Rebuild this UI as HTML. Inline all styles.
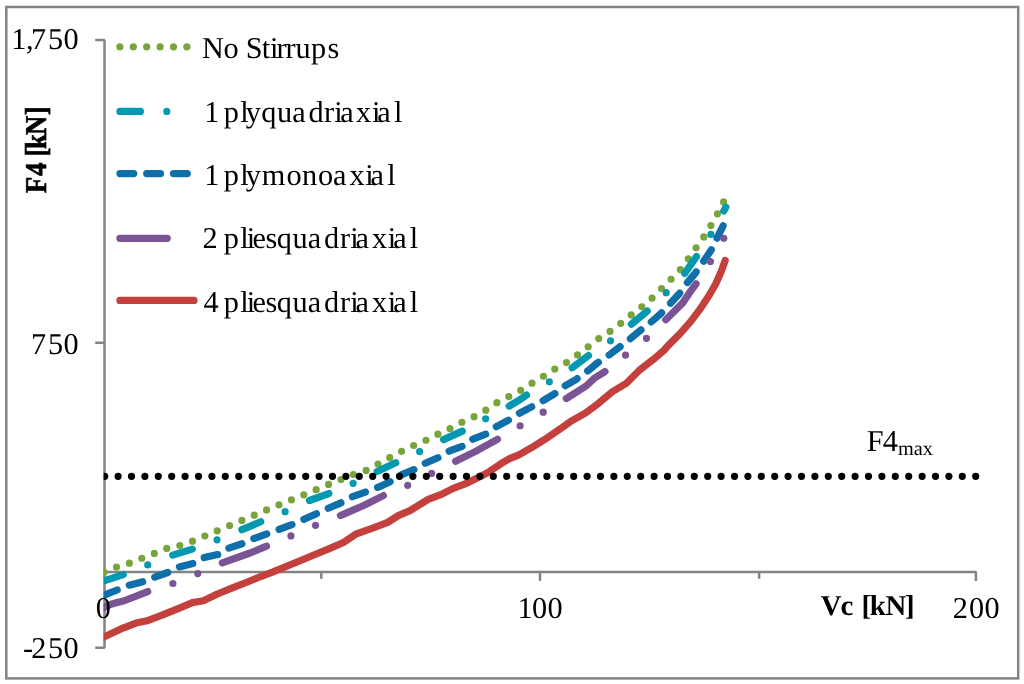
<!DOCTYPE html>
<html><head><meta charset="utf-8"><title>chart</title>
<style>
html,body{margin:0;padding:0;background:#fff;}
body{width:1024px;height:684px;overflow:hidden;position:relative;font-family:"Liberation Serif",serif;color:#000;}
svg{position:absolute;left:0;top:0;will-change:transform;}
text{font-family:"Liberation Serif",serif;fill:#000;text-rendering:geometricPrecision;}
</style></head><body>
<svg width="1024" height="684" viewBox="0 0 1024 684">
<defs><clipPath id="plot"><rect x="103.7" y="30" width="900" height="640"/></clipPath></defs>
<rect x="6.3" y="7.0" width="1011.9" height="671.4" fill="#fff" stroke="#848484" stroke-width="2.5"/>
<!-- axes -->
<g stroke="#848484" stroke-width="2.5" fill="none" stroke-linejoin="bevel">
<path d="M95.2,40 H104.5 V647.75 H95.2"/>
<path d="M95.2,342.8 H104.5"/>
<path d="M104.5,571.9 H975.9 V581"/>
<path d="M321.3,571.9 V578.8"/>
<path d="M540,571.9 V580.9"/>
<path d="M759.1,571.9 V578.8"/>
</g>
<g clip-path="url(#plot)" fill="none" stroke-linecap="round" stroke-linejoin="round" stroke-width="7.2">
<path d="M104.2,572.3 L104.7,572.1 L116.7,566.9 L129.4,563.2 L141.9,558.2 L154.5,553.3 L167.0,548.3 L179.8,545.5 L192.3,541.3 L254.4,515.1 L266.7,509.9 L279.3,504.7 L291.8,499.7 L304.0,494.7 L316.4,489.6 L328.7,484.4 L341.2,479.4 L353.6,474.4 L366.0,470.5 L401.6,451.3 L413.8,445.4 L426.3,440.2 L438.3,434.0 L450.0,428.5 L462.0,422.2 L474.0,416.7 L485.8,410.2 L496.7,402.8 L520.8,390.3 L532.0,383.2 L543.5,376.2 L554.7,369.1 L566.5,362.6 L577.4,355.0 L588.0,346.9 L598.7,338.6 L609.7,331.6 L620.7,323.3 L631.0,315.1 L641.5,307.0 L652.0,298.2 L661.3,288.8 L670.9,279.4 L680.3,269.7 L688.1,259.1 L695.9,248.1 L703.5,237.3 L710.7,225.9 L717.2,214.3 L723.4,202.4 L724.0,201.2" stroke="#78A43B" stroke-dasharray="0.00 13.40"/>
<path d="M104.7,580.7 L125.0,574.1 L148.2,564.7 L171.2,555.6 L193.9,548.6 L216.6,540.0 L250.0,526.3 L261.0,521.6 L285.5,511.5 L309.5,500.5 L329.8,493.2 L353.3,483.3 L376.8,471.6 L419.6,451.6 L443.0,439.9 L462.6,431.0 L485.6,418.8 L508.8,406.3 L520.0,399.6 L525.5,395.7 L549.0,382.0 L572.4,367.6 L588.0,355.8 L610.3,341.0 L631.3,324.2 L646.2,312.0 L665.7,293.2 L684.5,273.6 L695.5,258.0 L710.4,235.3 L723.4,211.5 L725.8,207.2" stroke="#0499B1" stroke-dasharray="20.50 26.40 0.00 26.80" stroke-dashoffset="1.0"/>
<path d="M104.7,594.8 L117.2,590.0 L128.2,585.4 L143.8,581.5 L153.2,577.6 L168.9,572.1 L177.5,567.4 L193.9,563.2 L202.5,558.0 L219.7,554.1 L227.5,548.6 L244.0,543.1 L253.9,538.5 L267.2,533.8 L279.0,529.5 L292.3,524.5 L304.0,519.3 L317.0,513.5 L328.2,508.3 L341.5,502.6 L352.5,496.6 L365.8,491.9 L378.3,487.2 L390.8,481.3 L401.0,475.0 L414.0,469.6 L425.0,463.4 L438.3,457.6 L448.8,451.3 L462.6,446.2 L472.8,439.1 L486.0,434.1 L495.8,426.9 L508.8,420.0 L519.2,413.3 L532.2,406.6 L543.5,400.4 L554.4,393.8 L565.4,385.6 L576.3,379.3 L588.0,370.7 L597.5,362.9 L609.2,355.0 L619.4,347.2 L630.5,338.6 L639.9,330.8 L650.9,322.2 L661.0,313.5 L670.4,303.4 L679.0,294.0 L687.6,282.3 L695.5,272.9 L703.3,261.9 L711.1,250.2 L716.7,238.9 L722.5,227.1 L725.5,221.0" stroke="#0F6FAA" stroke-dasharray="13.80 13.00" stroke-dashoffset="0.4"/>
<path d="M103.5,607.9 L107.0,606.0 L111.0,604.2 L117.0,602.5 L123.5,601.0 L148.5,591.3 L173.6,583.3 L198.6,573.3 L220.5,563.5 L250.0,553.0 L267.2,545.9 L291.5,535.7 L316.0,525.1 L341.5,515.1 L364.2,505.2 L384.6,495.0 L408.0,485.2 L432.1,473.1 L455.6,461.3 L475.1,451.6 L497.8,439.1 L520.5,425.5 L543.6,411.9 L567.0,398.1 L585.7,386.3 L595.1,377.7 L604.5,371.9 L625.6,355.0 L646.6,338.2 L665.7,319.8 L683.0,302.6 L689.2,293.2 L695.5,284.6 L710.3,261.7 L723.4,239.0 L724.3,237.4" stroke="#7A5494" stroke-dasharray="47.30 26.40 0.00 26.80 0.00 26.80"/>
<path d="M103.5,637.2 L104.7,636.6 L120.3,629.2 L136.0,623.1 L147.0,620.8 L162.6,614.9 L178.2,608.6 L192.3,602.6 L203.3,600.7 L217.4,594.0 L233.0,587.7 L248.7,581.5 L260.0,576.8 L273.1,571.8 L297.0,562.0 L312.6,555.5 L330.0,548.3 L343.9,542.2 L356.4,533.8 L372.0,528.3 L387.7,522.4 L398.7,515.4 L410.0,510.6 L428.2,499.4 L440.7,494.7 L453.2,488.4 L465.7,483.7 L478.2,477.5 L487.6,472.8 L500.2,464.2 L509.5,458.7 L518.9,454.8 L531.5,447.7 L544.0,439.9 L560.7,428.6 L571.6,420.8 L585.7,412.9 L598.2,403.6 L612.3,391.8 L626.4,383.2 L638.9,370.7 L653.0,359.7 L664.0,350.3 L667.3,346.4 L679.8,333.9 L690.8,321.4 L700.2,308.9 L709.5,294.8 L715.8,283.8 L721.3,271.3 L725.2,260.5" stroke="#C4403D"/>
<path d="M104.7,476.3 H977" stroke="#000" stroke-dasharray="0.00 13.40"/>
</g>
<!-- legend -->
<g fill="none" stroke-linecap="round" stroke-width="7.2">
<path d="M119.9,46.85 H194" stroke="#78A43B" stroke-dasharray="0.00 13.40"/>
<path d="M119.9,111.4 H193" stroke="#0499B1" stroke-dasharray="20.50 26.40 0.00 26.80"/>
<path d="M119.9,173.6 H192" stroke="#0F6FAA" stroke-dasharray="13.80 13.00"/>
<path d="M119.9,238.3 H167.2" stroke="#7A5494"/>
<path d="M119.9,300.4 H194" stroke="#C4403D"/>
</g>
<g font-size="30.3px">
<text y="49.0" x="11.2 25.95 31.0 48.0 63.45">1,750</text>
<text y="354.1" x="31.0 48.0 63.45">750</text>
<text y="658.3" x="22.9 31.3 48.0 63.45">-250</text>
<text y="617.5" x="95.75">0</text>
<text y="617.5" x="517.5 531.95 547.6">100</text>
<text y="617.5" x="952.8 968.95 984.55">200</text>
<text y="58.1" font-size="30.3px" x="201.9 223.4 228.4 245.7 261.7 270.0 276.5 285.6 295.5 310.9 327.4">No Stirrups</text>
<text y="121.7" font-size="30.3px" x="204.3 209.3 223.7 240.2 245.8 261.2 276.9 292.3 308.6 324.1 334.3 340.3 356.1 371.9 377.3 393.9">1 plyquadriaxial</text>
<text y="185.0" font-size="30.3px" x="204.3 209.3 223.7 240.2 245.8 261.7 286.4 302.1 318.1 333.1 349.5 365.3 370.4 387.3">1 plymonoaxial</text>
<text y="248.4" font-size="30.3px" x="202.5 207.5 223.7 240.2 246.7 252.5 265.4 276.8 292.5 307.7 323.9 340.0 350.2 355.6 372.0 387.8 393.2 409.8">2 pliesquadriaxial</text>
<text y="311.5" font-size="30.3px" x="203.4 208.4 223.7 240.2 246.7 252.5 265.4 276.8 292.5 307.7 323.9 340.0 350.2 355.6 372.0 387.8 393.2 409.8">4 pliesquadriaxial</text>
<text y="450.85" x="866.7 882.7">F4</text>
<text y="454.8" x="898.1" font-size="20.3px">max</text>
</g>
<g font-weight="bold">
<text y="614.8" font-size="28.8px" x="820.8 840.5 856 861.5 869.8 885.55 905.0">Vc [kN]</text>
<text transform="translate(46.2,193.05) rotate(-90) scale(0.88,1)" font-size="30.2px" stroke="#000" stroke-width="0.7" stroke-linejoin="round" x="0 19.55 36 41.5 50.0 66.1 88.4">F4 [kN]</text>
</g>
</svg>
</body></html>
